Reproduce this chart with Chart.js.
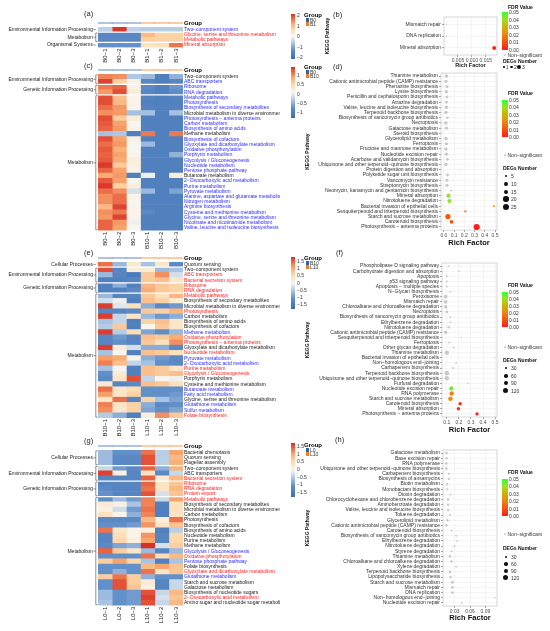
<!DOCTYPE html>
<html>
<head>
<meta charset="utf-8">
<script src="https://cdn.jsdelivr.net/npm/chart.js@4.4.1/dist/chart.umd.min.js"></script>
<style>
  body { margin: 0; background: #fff; width: 550px; height: 631px; position: relative; overflow: hidden;
         font-family: 'Liberation Sans', Arial, sans-serif; }
  canvas { position: absolute; }
  .t { position: absolute; white-space: nowrap; line-height: 1; }
  .b { position: absolute; }
</style>
</head>
<body>
<script>
// ---------- data ----------
const M = '\u2212';

// (a) heatmap B0 vs B1
const A_COLS = ['B0' + M + '1', 'B0' + M + '2', 'B0' + M + '3', 'B1' + M + '1', 'B1' + M + '2', 'B1' + M + '3'];
const A_GRP = [0, 0, 0, 1, 1, 1];
const A_GRPNAMES = ['B0', 'B1'];
const A_ROWS = ['Two' + M + 'component system', 'Glycine, serine and threonine metabolism', 'Metabolic pathways', 'Mineral absorption'];
const A_TONE = ['b', 'r', 'r', 'r'];
const A_GROUPS = [['Environmental Information Processing', 1], ['Metabolism', 2], ['Organismal Systems', 1]];
const A_VALS = [
  [-0.55, 2.05, -0.55, -0.6, -0.6, -0.6],
  [-1.5, -1.5, -1.5, 1.0, 0.7, 0.7],
  [-1.5, -1.5, -1.5, 0.75, 0.7, 0.7],
  [-1.3, -1.3, -1.3, 0.45, 0.5, 1.6]
];
const A_TICKS = [2, 1, 0, -1, -2];

// (b) enrichment B0 vs B1
const B_PATH = ['Mismatch repair', 'DNA replication', 'Mineral absorption'];
const B_RF = [0.0009, 0.0009, 0.018];
const B_DEG = [1, 1, 3];
const B_FDR = [null, null, 0.002];
const B_XTICKS = [0.005, 0.01, 0.015];
const B_DEGKEYS = [1, 2, 3];

// (c) heatmap B0 vs B10
const C_COLS = ['B0' + M + '1', 'B0' + M + '2', 'B0' + M + '3', 'B10' + M + '1', 'B10' + M + '2', 'B10' + M + '3'];
const C_GRP = [0, 0, 0, 1, 1, 1];
const C_GRPNAMES = ['B0', 'B10'];
const C_ROWS = ['Two' + M + 'component system', 'ABC transporters', 'Ribosome', 'RNA degradation',
  'Metabolic pathways', 'Photosynthesis', 'Biosynthesis of secondary metabolites',
  'Microbial metabolism in diverse environments', 'Photosynthesis ' + M + ' antenna proteins', 'Carbon metabolism',
  'Biosynthesis of amino acids', 'Methane metabolism', 'Biosynthesis of cofactors',
  'Glyoxylate and dicarboxylate metabolism', 'Oxidative phosphorylation', 'Porphyrin metabolism',
  'Glycolysis / Gluconeogenesis', 'Nucleotide metabolism', 'Pentose phosphate pathway', 'Butanoate metabolism',
  '2' + M + 'Oxocarboxylic acid metabolism', 'Purine metabolism', 'Pyruvate metabolism',
  'Alanine, aspartate and glutamate metabolism', 'Nitrogen metabolism', 'Arginine biosynthesis',
  'Cysteine and methionine metabolism', 'Glycine, serine and threonine metabolism',
  'Nicotinate and nicotinamide metabolism', 'Valine, leucine and isoleucine biosynthesis'];
const C_TONE = ['k', 'b', 'b', 'b', 'b', 'b', 'b', 'k', 'b', 'b', 'b', 'k', 'b', 'b', 'b', 'b', 'b', 'b', 'b', 'k',
  'b', 'b', 'b', 'b', 'b', 'b', 'b', 'b', 'b', 'b'];
const C_GROUPS = [['Environmental Information Processing', 2], ['Genetic Information Processing', 2], ['Metabolism', 26]];
const C_VALS = [
  [1.05, 1.0, -0.35, -0.45, -1.0, -0.5],
  [1.35, 0.55, 0.15, -0.9, -1.0, -0.9],
  [1.1, 1.2, 0.15, -0.85, -1.0, -0.7],
  [0.95, 1.3, 0.2, -0.9, -1.0, -0.8],
  [1.3, 0.7, 0.1, -0.95, -1.0, -0.95],
  [1.3, 0.75, 0.1, -1.0, -1.0, -1.0],
  [1.15, 0.95, 0.1, -0.95, -1.0, -0.95],
  [1.0, 0.95, -0.4, -0.4, -1.0, -0.4],
  [1.3, 0.6, 0.2, -1.0, -1.0, -1.0],
  [1.25, 0.9, 0.05, -1.0, -1.0, -1.0],
  [1.2, 0.95, 0.1, -1.0, -1.0, -1.0],
  [-0.4, -0.35, -1.0, 1.1, -1.0, 1.1],
  [1.3, 0.9, 0.15, -1.0, -1.0, -1.0],
  [1.15, 0.95, 0.05, -0.45, -1.0, -1.0],
  [1.25, 0.8, 0.05, -1.0, -1.0, -1.0],
  [1.2, 0.9, 0.05, -1.0, -1.0, -0.5],
  [1.25, 0.85, 0.2, -1.0, -1.0, -1.0],
  [1.4, 0.6, 0.15, -1.0, -1.0, -1.0],
  [1.2, 0.9, 0.1, -1.0, -1.0, -1.0],
  [0.85, 0.95, -1.0, 0.0, -1.0, 0.2],
  [1.25, 0.9, 0.05, -1.0, -1.0, -1.0],
  [1.4, 0.55, 0.2, -1.0, -1.0, -1.0],
  [1.15, 1.0, -0.15, -0.45, -1.0, -0.6],
  [1.0, 1.15, 0.1, -1.0, -1.0, -1.0],
  [1.0, 1.15, 0.05, -1.0, -1.0, -1.0],
  [0.75, 1.35, 0.1, -1.0, -1.0, -1.0],
  [1.0, 1.1, 0.1, -0.85, -1.0, -1.0],
  [0.95, 1.35, 0.1, -1.0, -1.0, -1.0],
  [1.2, 0.95, 0.0, -1.0, -1.0, -1.0],
  [1.2, 0.9, 0.05, -1.0, -1.0, -1.0]
];
const C_TICKS = [1, 0.5, 0, -0.5, -1];

// (d) enrichment B0 vs B10
const D_PATH = ['Thiamine metabolism', 'Cationic antimicrobial peptide (CAMP) resistance', 'Phenazine biosynthesis',
  'Lysine biosynthesis', 'Penicillin and cephalosporin biosynthesis', 'Atrazine degradation',
  'Valine, leucine and isoleucine biosynthesis', 'Terpenoid backbone biosynthesis',
  'Biosynthesis of vancomycin group antibiotics', 'Necroptosis', 'Galactose metabolism', 'Steroid biosynthesis',
  'Glycerolipid metabolism', 'Ferroptosis', 'Fructose and mannose metabolism', 'Nucleotide excision repair',
  'Acarbose and validamycin biosynthesis', 'Ubiquinone and other terpenoid' + M + 'quinone biosynthesis',
  'Protein digestion and absorption', 'Polyketide sugar unit biosynthesis', 'Vancomycin resistance',
  'Streptomycin biosynthesis', 'Neomycin, kanamycin and gentamicin biosynthesis', 'Mineral absorption',
  'Nitrotoluene degradation', 'Bacterial invasion of epithelial cells',
  'Sesquiterpenoid and triterpenoid biosynthesis', 'Starch and sucrose metabolism', 'Carotenoid biosynthesis',
  'Photosynthesis ' + M + ' antenna proteins'];
const D_RF = [0.025, 0.02, 0.03, 0.025, 0.03, 0.025, 0.025, 0.02, 0.035, 0.02, 0.025, 0.085, 0.02, 0.025, 0.02,
  0.025, 0.035, 0.02, 0.165, 0.035, 0.03, 0.03, 0.07, 0.045, 0.055, 0.49, 0.21, 0.04, 0.075, 0.32];
const D_DEG = [9, 8, 7, 8, 6, 6, 9, 9, 5, 8, 8, 1, 9, 7, 8, 7, 5, 9, 1, 6, 7, 7, 3, 13, 12, 3, 4, 20, 10, 27];
const D_FDR = [null, null, null, null, null, null, null, null, null, null, null, null, null, null, null, null,
  null, null, null, null, null, null, null, 0.040, 0.042, 0.026, 0.024, 0.011, 0.010, 0.001];
const D_XTICKS = [0, 0.1, 0.2, 0.3, 0.4, 0.5];
const D_DEGKEYS = [5, 10, 15, 20, 25];

// (e) heatmap B10 vs L10
const E_COLS = ['B10' + M + '1', 'B10' + M + '2', 'B10' + M + '3', 'L10' + M + '1', 'L10' + M + '2', 'L10' + M + '3'];
const E_GRP = [0, 0, 0, 1, 1, 1];
const E_GRPNAMES = ['B10', 'L10'];
const E_ROWS = ['Quorum sensing', 'Two' + M + 'component system', 'ABC transporters', 'Bacterial secretion system',
  'Ribosome', 'RNA degradation', 'Metabolic pathways', 'Biosynthesis of secondary metabolites',
  'Microbial metabolism in diverse environments', 'Photosynthesis', 'Carbon metabolism',
  'Biosynthesis of amino acids', 'Biosynthesis of cofactors', 'Methane metabolism', 'Oxidative phosphorylation',
  'Photosynthesis ' + M + ' antenna proteins', 'Glyoxylate and dicarboxylate metabolism', 'Nucleotide metabolism',
  'Pyruvate metabolism', '2' + M + 'Oxocarboxylic acid metabolism', 'Purine metabolism',
  'Glycolysis / Gluconeogenesis', 'Porphyrin metabolism', 'Cysteine and methionine metabolism',
  'Butanoate metabolism', 'Fatty acid metabolism', 'Glycine, serine and threonine metabolism',
  'Glutathione metabolism', 'Sulfur metabolism', 'Folate biosynthesis'];
const E_TONE = ['k', 'k', 'r', 'r', 'r', 'r', 'r', 'k', 'k', 'r', 'k', 'k', 'k', 'b', 'r', 'r', 'k', 'r', 'b', 'b',
  'r', 'r', 'k', 'k', 'b', 'b', 'k', 'b', 'b', 'r'];
const E_GROUPS = [['Cellular Processes', 1], ['Environmental Information Processing', 3],
  ['Genetic Information Processing', 2], ['Metabolism', 24]];
const E_VALS = [
  [1.4, -0.7, 0.25, -0.6, 0.3, -1.2],
  [1.6, -1.3, 0.15, 0.2, -0.7, -0.6],
  [-0.7, -1.3, -1.5, 0.7, 1.2, -0.3],
  [-1.4, -1.4, -1.3, 0.7, 0.8, 0.3],
  [-1.4, -0.8, -1.4, 0.9, 0.7, 0.6],
  [-1.4, -1.4, -1.2, 1.0, 0.7, 0.6],
  [-0.7, -1.3, -1.3, 0.7, 0.4, 0.9],
  [-0.3, -0.1, -1.4, 0.8, 0.6, 0.2],
  [1.7, -0.2, 0.4, -0.8, -1.2, -1.0],
  [-1.3, -1.3, -1.2, 0.7, 0.6, 0.9],
  [1.7, -0.4, 0.3, -0.7, -1.0, -0.8],
  [-0.6, -0.4, -1.4, 0.6, 0.8, 0.3],
  [-0.5, 0.7, -1.4, 0.0, 0.7, 0.3],
  [1.7, -0.5, 0.5, -0.9, -1.1, -0.7],
  [-1.3, -1.0, -1.3, 0.8, 0.7, 1.0],
  [-1.3, -1.1, -1.3, 0.7, 0.4, 1.2],
  [1.7, 0.2, -0.3, -0.8, -0.8, -1.2],
  [-0.6, 0.0, -1.4, 0.8, 0.7, 0.4],
  [1.1, 1.0, 0.0, -0.8, -1.0, -1.2],
  [1.3, 0.8, -0.4, -0.6, -1.1, -1.2],
  [-0.6, -0.05, -1.4, 0.8, 0.7, 0.3],
  [-1.1, 0.2, -1.4, 0.8, 0.7, 0.8],
  [-1.2, 0.3, 1.6, -0.4, 0.0, -0.1],
  [0.2, -1.3, -1.2, 0.8, 0.7, 0.4],
  [1.4, 0.3, 0.5, -1.1, -1.1, -1.1],
  [1.1, 0.3, 0.6, -1.1, -1.1, -1.0],
  [0.3, 1.4, -1.3, 0.6, -0.6, -0.9],
  [1.3, 0.35, 0.6, -0.8, -1.2, -1.1],
  [1.2, 0.3, 0.6, -0.9, -1.1, -0.9],
  [-0.5, -0.8, -1.4, 0.15, 1.2, 0.7]
];
const E_TICKS = [1.5, 1, 0.5, 0, -0.5, -1, -1.5];

// (f) enrichment B10 vs L10
const F_PATH = ['Phospholipase D signaling pathway', 'Carbohydrate digestion and absorption', 'Apoptosis',
  'p53 signaling pathway', 'Apoptosis ' + M + ' multiple species', 'N' + M + 'Glycan biosynthesis', 'Peroxisome',
  'Mismatch repair', 'Chloroalkane and chloroalkene degradation', 'Necroptosis',
  'Biosynthesis of vancomycin group antibiotics', 'Ethylbenzene degradation', 'Nitrotoluene degradation',
  'Cationic antimicrobial peptide (CAMP) resistance', 'Sesquiterpenoid and triterpenoid biosynthesis',
  'Ferroptosis', 'Other glycan degradation', 'Thiamine metabolism', 'Bacterial invasion of epithelial cells',
  'Non' + M + 'homologous end' + M + 'joining', 'Carbapenem biosynthesis', 'Terpenoid backbone biosynthesis',
  'Ubiquinone and other terpenoid' + M + 'quinone biosynthesis', 'Furfural degradation',
  'Nucleotide excision repair', 'RNA polymerase', 'Starch and sucrose metabolism', 'Carotenoid biosynthesis',
  'Mineral absorption', 'Photosynthesis ' + M + ' antenna proteins'];
const F_RF = [0.116, 0.20, 0.10, 0.10, 0.10, 0.13, 0.09, 0.09, 0.09, 0.10, 0.13, 0.13, 0.115, 0.09, 0.217, 0.12,
  0.157, 0.10, 0.497, 0.177, 0.15, 0.10, 0.10, 0.276, 0.137, 0.14, 0.13, 0.21, 0.196, 0.35];
const F_DEG = [10, 8, 12, 12, 12, 10, 60, 65, 60, 35, 12, 12, 25, 60, 8, 18, 10, 95, 5, 12, 15, 100, 100, 8, 85,
  90, 95, 50, 55, 50];
const F_FDR = [null, null, null, null, null, null, null, null, null, null, null, null, null, null, null, null,
  null, null, null, null, null, null, null, null, 0.045, 0.02, 0.022, 0.003, 0.004, 0.001];
const F_XTICKS = [0.1, 0.2, 0.3, 0.4, 0.5];
const F_DEGKEYS = [30, 60, 90, 120];

// (g) heatmap L0 vs L10
const G_COLS = ['L0' + M + '1', 'L0' + M + '2', 'L0' + M + '3', 'L10' + M + '1', 'L10' + M + '2', 'L10' + M + '3'];
const G_GRP = [0, 0, 0, 1, 1, 1];
const G_GRPNAMES = ['L0', 'L10'];
const G_ROWS = ['Bacterial chemotaxis', 'Quorum sensing', 'Flagellar assembly', 'Two' + M + 'component system',
  'ABC transporters', 'Bacterial secretion system', 'Ribosome', 'RNA degradation', 'Protein export',
  'Metabolic pathways', 'Biosynthesis of secondary metabolites', 'Microbial metabolism in diverse environments',
  'Carbon metabolism', 'Photosynthesis', 'Biosynthesis of cofactors', 'Biosynthesis of amino acids',
  'Nucleotide metabolism', 'Purine metabolism', 'Methane metabolism', 'Glycolysis / Gluconeogenesis',
  'Oxidative phosphorylation', 'Pentose phosphate pathway', 'Folate biosynthesis',
  'Glyoxylate and dicarboxylate metabolism', 'Glutathione metabolism', 'Starch and sucrose metabolism',
  'Galactose metabolism', 'Biosynthesis of nucleotide sugars', '2' + M + 'Oxocarboxylic acid metabolism',
  'Amino sugar and nucleotide sugar metabolism'];
const G_TONE = ['k', 'k', 'k', 'k', 'k', 'r', 'r', 'r', 'r', 'r', 'k', 'k', 'k', 'k', 'k', 'k', 'k', 'k', 'k', 'b',
  'r', 'b', 'k', 'r', 'b', 'k', 'k', 'k', 'r', 'k'];
const G_GROUPS = [['Cellular Processes', 3], ['Environmental Information Processing', 3],
  ['Genetic Information Processing', 3], ['Metabolism', 21]];
const G_VALS = [
  [-0.7, -1.1, -1.1, 1.3, -0.5, 1.0],
  [-0.7, -1.2, -1.2, 1.5, -0.5, 0.8],
  [-0.7, -1.2, -1.2, 1.5, -0.5, 0.9],
  [-0.4, -1.0, -1.2, 1.4, -0.8, 0.9],
  [1.6, 0.05, -1.3, 0.3, -1.2, -0.4],
  [-1.3, -1.3, -1.3, 1.4, 0.2, 0.8],
  [-1.3, -1.3, -1.3, 1.4, 0.3, 0.7],
  [-1.2, -1.3, -1.3, 1.3, 0.3, 0.8],
  [-1.1, -1.3, -1.3, 1.5, -0.3, 0.7],
  [-1.1, -0.7, -1.0, 1.2, -0.4, 1.0],
  [0.15, 0.05, -0.6, 1.2, -1.4, 0.35],
  [0.05, -0.35, -1.0, 1.3, -1.4, 0.35],
  [0.35, 0.0, -0.8, 1.2, -1.4, 0.3],
  [-1.2, -1.2, -1.2, 0.8, 0.1, 1.3],
  [-1.1, -1.1, -1.0, 1.1, 0.3, 0.7],
  [1.3, 0.25, 0.0, 0.1, -1.4, -0.5],
  [-1.3, 0.4, 0.0, 1.1, -1.3, 0.5],
  [-1.3, 0.5, 0.05, 1.0, -1.3, 0.5],
  [-1.2, -0.9, -0.8, 1.7, -0.3, 0.6],
  [1.4, 0.6, 0.25, -0.7, -1.3, -0.7],
  [-1.1, -1.1, -1.1, 1.3, 0.4, 0.8],
  [0.6, 1.0, 0.5, -0.6, -1.4, -0.6],
  [-1.1, -1.1, -1.1, 0.8, 1.0, 0.7],
  [-1.1, -0.8, -1.1, 1.3, 0.3, 0.7],
  [0.6, 1.3, 0.6, -0.8, -1.1, -1.1],
  [-1.1, 1.5, 0.6, 0.15, -1.3, -0.4],
  [-1.1, 1.5, 0.7, 0.05, -1.3, -0.4],
  [-0.7, -1.1, -1.0, 1.5, -0.4, 0.8],
  [-0.7, -1.1, -1.0, 1.6, -0.3, 0.7],
  [-0.6, -1.1, -1.0, 1.5, -0.4, 0.8]
];
const G_TICKS = [1.5, 1, 0.5, 0, -0.5, -1, -1.5];

// (h) enrichment L0 vs L10
const H_PATH = ['Galactose metabolism', 'Base excision repair', 'RNA polymerase',
  'Ubiquinone and other terpenoid' + M + 'quinone biosynthesis', 'Carbapenem biosynthesis',
  'Biosynthesis of ansamycins', 'Biotin metabolism', 'Monobactam biosynthesis', 'Dioxin degradation',
  'Chlorocyclohexane and chlorobenzene degradation', 'Aminobenzoate degradation',
  'Valine, leucine and isoleucine biosynthesis', 'Toluene degradation', 'Glycerolipid metabolism',
  'Cationic antimicrobial peptide (CAMP) resistance', 'Carotenoid biosynthesis',
  'Biosynthesis of vancomycin group antibiotics', 'Ethylbenzene degradation', 'Nitrotoluene degradation',
  'Styrene degradation', 'Thiamine metabolism', 'Chloroalkane and chloroalkene degradation',
  'Xylene degradation', 'Terpenoid backbone biosynthesis', 'Lipopolysaccharide biosynthesis',
  'Starch and sucrose metabolism', 'Mismatch repair', 'DNA replication',
  'Non' + M + 'homologous end' + M + 'joining', 'Nucleotide excision repair'];
const H_RF = [0.0144, 0.0144, 0.014, 0.014, 0.019, 0.019, 0.0156, 0.0156, 0.022, 0.0175, 0.0175, 0.0175, 0.021,
  0.016, 0.014, 0.024, 0.033, 0.035, 0.03, 0.024, 0.021, 0.024, 0.033, 0.021, 0.022, 0.0256, 0.0256, 0.0256,
  0.108, 0.044];
const H_DEG = [30, 25, 25, 30, 20, 20, 25, 20, 15, 25, 25, 25, 15, 30, 30, 15, 12, 12, 15, 15, 30, 25, 12, 30, 30,
  35, 35, 35, 8, 12];
const H_FDR = H_PATH.map(() => null);
const H_XTICKS = [0.03, 0.06, 0.09];
const H_DEGKEYS = [30, 60, 90, 120];

// ---------- styling helpers ----------
const FONT = "'Liberation Sans', Arial, sans-serif";
Chart.defaults.font.family = FONT;
Chart.defaults.font.size = 5;
Chart.defaults.color = '#333';
Chart.defaults.animation = false;
Chart.defaults.responsive = false;
Chart.defaults.plugins.legend.display = false;
Chart.defaults.plugins.tooltip.enabled = false;

const TONE = { k: '#1a1a1a', b: '#2b2bff', r: '#ff2020' };
const GROUP_COL = ['#2b63ad', '#f47b20'];
const HEAT = [[0, '#3c6cb1'], [0.2, '#5f8dc7'], [0.35, '#abc6e4'], [0.5, '#f8f6f0'], [0.65, '#fddcb0'],
  [0.8, '#f8a66e'], [0.92, '#e8603f'], [1, '#d73027']];
const FDR_STOPS = [[0, '#ff1a1a'], [0.2, '#f5520f'], [0.45, '#e89010'], [0.6, '#d0b000'], [0.8, '#a0e020'],
  [1, '#33ff33']];

function hex(c) { return [1, 3, 5].map(i => parseInt(c.slice(i, i + 2), 16)); }
function ramp(stops, t) {
  t = Math.max(0, Math.min(1, t));
  for (let i = 1; i < stops.length; i++) {
    if (t <= stops[i][0]) {
      const [t0, c0] = stops[i - 1], [t1, c1] = stops[i];
      const f = (t - t0) / (t1 - t0), a = hex(c0), b = hex(c1);
      return 'rgb(' + a.map((v, k) => Math.round(v + (b[k] - v) * f)).join(',') + ')';
    }
  }
  return stops[stops.length - 1][1];
}
const heatColor = (v, lo, hi) => ramp(HEAT, (v - lo) / (hi - lo));
const fdrColor = f => f == null ? 'rgba(196,196,196,0.9)' : ramp(FDR_STOPS, f / 0.05);
const gradientCss = stops => 'linear-gradient(to top,' + stops.map(([t, c]) => c + ' ' + (t * 100) + '%').join(',') + ')';

function makeSize(lo, hi, rlo, rhi) {
  return n => {
    const f = Math.max(0, Math.min(1, (n - lo) / (hi - lo)));
    return Math.sqrt(rlo * rlo + (rhi * rhi - rlo * rlo) * f);
  };
}

function mkCanvas(x, y, w, h) {
  const c = document.createElement('canvas');
  c.width = w; c.height = h;
  c.style.left = x + 'px'; c.style.top = y + 'px';
  c.style.width = w + 'px'; c.style.height = h + 'px';
  document.body.appendChild(c);
  return c;
}

function txt(x, y, s, size, opt = {}) {
  const d = document.createElement('div');
  d.className = 't';
  d.textContent = s;
  d.style.left = x + 'px';
  d.style.top = y + 'px';
  d.style.fontSize = size + 'px';
  d.style.transform = opt.right ? 'translate(-100%,-50%)' : 'translateY(-50%)';
  if (opt.bold) d.style.fontWeight = 'bold';
  d.style.color = opt.color || '#333';
  document.body.appendChild(d);
}

function box(x, y, w, h, bg, round) {
  const d = document.createElement('div');
  d.className = 'b';
  d.style.left = x + 'px'; d.style.top = y + 'px';
  d.style.width = w + 'px'; d.style.height = h + 'px';
  d.style.background = bg;
  if (round) d.style.borderRadius = '50%';
  document.body.appendChild(d);
}

// ---------- heatmaps ----------
function groupPlugin(groups) {
  return {
    id: 'groups',
    afterDatasetsDraw(chart) {
      const { ctx, chartArea: a, scales: { y } } = chart;
      const step = y.getPixelForTick(1) - y.getPixelForTick(0);
      let start = 0;
      ctx.save();
      ctx.font = '5px ' + FONT;
      ctx.textAlign = 'right';
      ctx.textBaseline = 'middle';
      groups.forEach(([name, count], gi) => {
        const top = y.getPixelForTick(start) - step / 2;
        const bot = y.getPixelForTick(start + count - 1) + step / 2;
        if (gi > 0) {
          ctx.strokeStyle = '#fff';
          ctx.lineWidth = 1.2;
          ctx.beginPath(); ctx.moveTo(a.left, top); ctx.lineTo(a.right, top); ctx.stroke();
        }
        const mid = (top + bot) / 2;
        ctx.strokeStyle = '#444';
        ctx.lineWidth = 0.6;
        ctx.beginPath();
        ctx.moveTo(a.left - 4.5, mid); ctx.lineTo(a.left - 2.2, mid);
        if (count > 1) {
          ctx.moveTo(a.left - 0.4, top + 0.9); ctx.lineTo(a.left - 2.2, top + 0.9);
          ctx.lineTo(a.left - 2.2, bot - 0.9); ctx.lineTo(a.left - 0.4, bot - 0.9);
        }
        ctx.stroke();
        ctx.fillStyle = '#1a1a1a';
        ctx.fillText(name, a.left - 5, mid);
        start += count;
      });
      ctx.restore();
    }
  };
}

const NO_GRID = { display: false, drawTicks: false, tickLength: 0 };

function heatmap(p) {
  const top = Math.floor(p.top) - 2;
  const padTop = p.top - top;
  const h = Math.ceil(padTop + (p.bottom - p.top) + 18);
  const axisH = h - padTop - (p.bottom - p.top);
  new Chart(mkCanvas(0, top, 280, h), {
    type: 'bar',
    data: {
      labels: p.rows,
      datasets: p.cols.map((c, j) => ({
        data: p.rows.map(() => 1),
        backgroundColor: p.vals.map(r => heatColor(r[j], p.vmin, p.vmax)),
        borderWidth: 0, barPercentage: 1, categoryPercentage: 1
      }))
    },
    options: {
      indexAxis: 'y',
      layout: { padding: { left: 98, top: padTop, right: 0, bottom: 0 } },
      scales: {
        x: { type: 'linear', stacked: true, min: 0, max: p.cols.length, display: false },
        x2: {
          type: 'category', labels: p.cols, position: 'bottom', offset: true,
          grid: NO_GRID, border: { display: false },
          ticks: { maxRotation: 90, minRotation: 90, autoSkip: false, padding: 1, color: '#1a1a1a', font: { size: 6 } },
          afterFit: s => { s.height = axisH; }
        },
        y: {
          stacked: true, position: 'right', grid: NO_GRID, border: { display: false },
          ticks: { autoSkip: false, padding: 1, font: { size: 5 }, color: c => TONE[p.tone[c.index]] },
          afterFit: s => { s.width = 97; }
        }
      }
    },
    plugins: [groupPlugin(p.groups)]
  });

  // group strip on top
  const sTop = Math.floor(p.strip) - 3;
  const sPad = p.strip - sTop;
  new Chart(mkCanvas(0, sTop, 280, 10), {
    type: 'bar',
    data: {
      labels: ['Group'],
      datasets: p.cols.map((c, j) => ({
        data: [1], backgroundColor: GROUP_COL[p.grp[j]], borderWidth: 0, barPercentage: 1, categoryPercentage: 1
      }))
    },
    options: {
      indexAxis: 'y',
      layout: { padding: { left: 98, top: sPad, bottom: 10 - sPad - 3, right: 0 } },
      scales: {
        x: { type: 'linear', stacked: true, min: 0, max: p.cols.length, display: false },
        y: {
          stacked: true, position: 'right', grid: NO_GRID, border: { display: false },
          ticks: { padding: 1, color: '#000', font: { size: 6, weight: 'bold' } },
          afterFit: s => { s.width = 97; }
        }
      }
    }
  });

  // colour bar + group key
  const cb = p.cbar;
  box(291, cb.top, 4, cb.bottom - cb.top, gradientCss(HEAT));
  p.ticks.forEach(v => {
    const y = cb.top + (p.vmax - v) / (p.vmax - p.vmin) * (cb.bottom - cb.top);
    txt(297, y, v < 0 ? M + Math.abs(v) : String(v), 5);
  });
  txt(304, cb.groupY, 'Group', 6, { bold: true, color: '#000' });
  p.grpNames.forEach((g, i) => {
    const y = cb.groupY + 5 + i * 4.3;
    box(305.5, y - 1.9, 3.8, 3.8, GROUP_COL[i]);
    txt(310, y, g, 5);
  });
}

// ---------- bubble plots ----------
const framePlugin = {
  id: 'frame',
  beforeDatasetsDraw(chart) {
    const { ctx, chartArea: a } = chart;
    ctx.save();
    ctx.strokeStyle = '#bdbdbd';
    ctx.lineWidth = 0.6;
    ctx.strokeRect(a.left, a.top, a.right - a.left, a.bottom - a.top);
    ctx.restore();
  }
};

function bubble(p) {
  const n = p.labels.length;
  const ctop = Math.floor(p.top) - 2;
  const padTop = p.top - ctop;
  const ch = Math.ceil(p.titleY + p.titleSize * 0.6 - ctop);
  const xH = ch - padTop - (p.bottom - p.top);
  const cw = Math.ceil(p.plotR + 2 - p.cx);
  const grid = { color: '#ebebeb', lineWidth: 0.5, tickLength: 2, tickColor: '#444' };
  new Chart(mkCanvas(p.cx, ctop, cw, ch), {
    type: 'bubble',
    data: {
      datasets: [{
        data: p.labels.map((l, i) => ({ x: p.rf[i], y: i, r: p.size(p.deg[i]) })),
        backgroundColor: p.fdr.map(fdrColor),
        borderWidth: 0
      }]
    },
    options: {
      layout: { padding: { top: padTop, right: cw - (p.plotR - p.cx), left: 0, bottom: 0 } },
      scales: {
        x: {
          type: 'linear', min: p.xmin, max: p.xmax,
          afterBuildTicks: s => { s.ticks = p.xticks.map(v => ({ value: v })); },
          ticks: { callback: v => v.toFixed(p.dec), padding: 0.5, color: '#4d4d4d', font: { size: 5 },
                   maxRotation: 0, minRotation: 0, autoSkip: false },
          grid, border: { display: false },
          title: { display: true, text: 'Rich Factor', color: '#111', padding: 0, font: { size: p.titleSize, weight: 'bold' } },
          afterFit: s => { s.height = xH; }
        },
        y: {
          type: 'linear', reverse: true, min: -0.6, max: n - 0.4,
          afterBuildTicks: s => { s.ticks = p.labels.map((l, i) => ({ value: i })); },
          ticks: { autoSkip: false, callback: v => p.labels[v], padding: 1, color: '#333', font: { size: 5 } },
          grid, border: { display: false },
          title: { display: true, text: 'KEGG Pathway', color: '#111', padding: 0, font: { size: 5, weight: 'bold' } },
          afterFit: s => { s.width = p.plotL - p.cx; }
        }
      }
    },
    plugins: [framePlugin]
  });

  // FDR / DEGs legend
  const L = p.legend;
  txt(508, L.titleY, 'FDR Value', 5, { bold: true, color: '#111' });
  box(502, L.gTop, 5.5, L.gBot - L.gTop, gradientCss(FDR_STOPS));
  [0.05, 0.04, 0.03, 0.02, 0.01, 0].forEach((v, i) => {
    txt(509, L.gTop + i * (L.gBot - L.gTop) / 5, v.toFixed(2), 5);
  });
  box(503.5, L.nsY - 1.3, 2.6, 2.6, fdrColor(null), true);
  txt(507.5, L.nsY, 'Non' + M + 'significant', 5);
  txt(503, L.degY, 'DEGs Number', 5, { bold: true, color: '#111' });
  if (L.inline) {
    let x = 504;
    p.degKeys.forEach(k => {
      const r = p.size(k);
      box(x - r, L.inline - r, 2 * r, 2 * r, '#111', true);
      txt(x + r + 1, L.inline, String(k), 5);
      x += 7.5;
    });
  } else {
    p.degKeys.forEach((k, i) => {
      const r = p.size(k), y = L.itemY[i];
      box(506 - r, y - r, 2 * r, 2 * r, '#111', true);
      txt(511, y, String(k), 5);
    });
  }
}

// ---------- build ----------
heatmap({ rows: A_ROWS, tone: A_TONE, cols: A_COLS, vals: A_VALS, groups: A_GROUPS, grp: A_GRP, grpNames: A_GRPNAMES,
  top: 25, bottom: 47.5, strip: 21, vmin: -2.19, vmax: 2.1, ticks: A_TICKS, cbar: { top: 14, bottom: 59, groupY: 15 } });
heatmap({ rows: C_ROWS, tone: C_TONE, cols: C_COLS, vals: C_VALS, groups: C_GROUPS, grp: C_GRP, grpNames: C_GRPNAMES,
  top: 72.4, bottom: 230.6, strip: 68.5, vmin: -1.33, vmax: 1.44, ticks: C_TICKS, cbar: { top: 67, bottom: 118, groupY: 67 } });
heatmap({ rows: E_ROWS, tone: E_TONE, cols: E_COLS, vals: E_VALS, groups: E_GROUPS, grp: E_GRP, grpNames: E_GRPNAMES,
  top: 260.4, bottom: 418, strip: 256.2, vmin: -1.84, vmax: 1.78, ticks: E_TICKS, cbar: { top: 257, bottom: 309, groupY: 258 } });
heatmap({ rows: G_ROWS, tone: G_TONE, cols: G_COLS, vals: G_VALS, groups: G_GROUPS, grp: G_GRP, grpNames: G_GRPNAMES,
  top: 448.4, bottom: 605.6, strip: 444.2, vmin: -1.83, vmax: 1.7, ticks: G_TICKS, cbar: { top: 443, bottom: 497, groupY: 445 } });

bubble({ labels: B_PATH, rf: B_RF, deg: B_DEG, fdr: B_FDR, size: makeSize(1, 3, 0.7, 2.0), degKeys: B_DEGKEYS,
  cx: 325, plotL: 444, plotR: 499, top: 15, bottom: 55, xmin: 0, xmax: 0.019, xticks: B_XTICKS, dec: 3,
  titleY: 65, titleSize: 5.5,
  legend: { titleY: 7, gTop: 12, gBot: 50, nsY: 55, degY: 61, inline: 67 } });
bubble({ labels: D_PATH, rf: D_RF, deg: D_DEG, fdr: D_FDR, size: makeSize(1, 27, 0.6, 3.1), degKeys: D_DEGKEYS,
  cx: 305, plotL: 441, plotR: 499, top: 71.9, bottom: 230.1, xmin: -0.028, xmax: 0.519, xticks: D_XTICKS, dec: 1,
  titleY: 242, titleSize: 7.5,
  legend: { titleY: 93, gTop: 100, gBot: 137, nsY: 155, degY: 168, itemY: [176, 184, 192, 199, 207] } });
bubble({ labels: F_PATH, rf: F_RF, deg: F_DEG, fdr: F_FDR, size: makeSize(5, 140, 0.7, 2.7), degKeys: F_DEGKEYS,
  cx: 305, plotL: 442, plotR: 499, top: 261, bottom: 417, xmin: 0.06, xmax: 0.516, xticks: F_XTICKS, dec: 1,
  titleY: 429, titleSize: 7.5,
  legend: { titleY: 285, gTop: 292, gBot: 327, nsY: 347, degY: 360, itemY: [368, 376, 383, 391] } });
bubble({ labels: H_PATH, rf: H_RF, deg: H_DEG, fdr: H_FDR, size: makeSize(5, 140, 0.7, 2.7), degKeys: H_DEGKEYS,
  cx: 305, plotL: 443, plotR: 499, top: 448, bottom: 606, xmin: 0.0075, xmax: 0.1125, xticks: H_XTICKS, dec: 2,
  titleY: 617, titleSize: 7.5,
  legend: { titleY: 472, gTop: 479, gBot: 516, nsY: 534, degY: 548, itemY: [557, 564, 571, 578] } });

// panel letters
[['(a)', 84, 14], ['(b)', 333, 15], ['(c)', 84, 66], ['(d)', 333, 67],
 ['(e)', 84, 253], ['(f)', 336, 253], ['(g)', 84, 441], ['(h)', 335, 440]].forEach(([s, x, y]) => txt(x, y, s, 7.5, { color: '#222' }));
</script>
</body>
</html>
